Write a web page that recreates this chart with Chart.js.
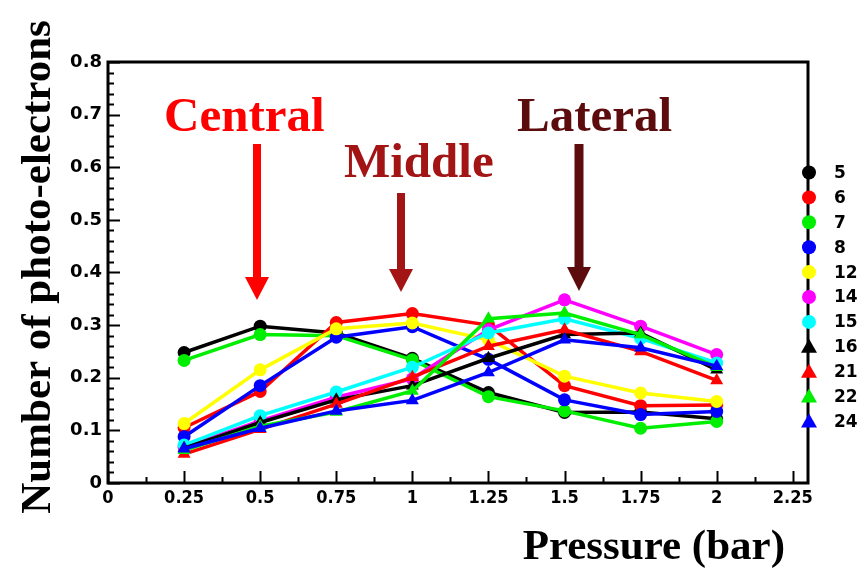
<!DOCTYPE html>
<html>
<head>
<meta charset="utf-8">
<script src="https://cdn.jsdelivr.net/npm/chart.js@4"></script>
<style>
  body { margin: 0; background: #fff; }
  #wrap { width: 861px; height: 570px; }
</style>
</head>
<body>
<div id="wrap"><canvas id="pe" width="861" height="570"></canvas></div>
<script>
// pressure points (bar)
const pressure = [0.25, 0.5, 0.75, 1, 1.25, 1.5, 1.75, 2];

// channel labels + style
const channels = ['5', '6', '7', '8', '12', '14', '15', '16', '21', '22', '24'];
const colours = ['#000000', '#ff0000', '#00ee00', '#0000ff', '#ffff00', '#ff00ff', '#00ffff',
                 '#000000', '#ff0000', '#00ee00', '#0000ff'];
const markers = ['circle', 'circle', 'circle', 'circle', 'circle', 'circle', 'circle',
                 'triangle', 'triangle', 'triangle', 'triangle'];

// photo-electrons per channel
const ch5  = [0.248, 0.298, 0.285, 0.237, 0.172, 0.134, 0.135, 0.122];
const ch6  = [0.105, 0.174, 0.305, 0.322, 0.300, 0.185, 0.147, 0.148];
const ch7  = [0.233, 0.282, 0.280, 0.234, 0.164, 0.137, 0.104, 0.117];
const ch8  = [0.088, 0.185, 0.277, 0.297, 0.235, 0.158, 0.130, 0.136];
const ch12 = [0.113, 0.215, 0.293, 0.304, 0.272, 0.203, 0.171, 0.155];
const ch14 = [0.068, 0.118, 0.163, 0.198, 0.291, 0.348, 0.298, 0.244];
const ch15 = [0.072, 0.128, 0.173, 0.220, 0.285, 0.312, 0.275, 0.228];
const ch16 = [0.066, 0.115, 0.158, 0.185, 0.237, 0.282, 0.285, 0.215];
const ch21 = [0.055, 0.102, 0.150, 0.201, 0.260, 0.291, 0.250, 0.195];
const ch22 = [0.062, 0.108, 0.135, 0.175, 0.312, 0.323, 0.282, 0.220];
const ch24 = [0.065, 0.104, 0.137, 0.157, 0.210, 0.272, 0.257, 0.222];
const allSeries = [ch5, ch6, ch7, ch8, ch12, ch14, ch15, ch16, ch21, ch22, ch24];

// x / y ticks
const xTicks = [0, 0.25, 0.5, 0.75, 1, 1.25, 1.5, 1.75, 2, 2.25];
const yTicks = [0, 0.1, 0.2, 0.3, 0.4, 0.5, 0.6, 0.7, 0.8];

const datasets = allSeries.map((vals, i) => ({
  label: channels[i],
  data: vals.map((v, k) => ({ x: pressure[k], y: v })),
  borderColor: colours[i],
  backgroundColor: colours[i],
  borderWidth: 3.5,
  pointStyle: markers[i],
  pointRadius: markers[i] === 'circle' ? 6.5 : 7.5,
  pointBorderWidth: 0,
  tension: 0,
  order: allSeries.length - i
}));

// frame + inside ticks like the ROOT plot
const frame = {
  id: 'frame',
  afterDatasetsDraw(chart) {
    const { ctx, chartArea: a, scales: { x, y } } = chart;
    ctx.save();
    ctx.strokeStyle = '#000';
    ctx.lineWidth = 2;
    ctx.beginPath();
    // y ticks, minors every 0.02
    for (let v = 0; v <= 0.8001; v += 0.02) {
      const py = Math.round(y.getPixelForValue(v)) + 0.5;
      const major = Math.abs(v * 10 - Math.round(v * 10)) < 1e-6;
      ctx.moveTo(a.left, py);
      ctx.lineTo(a.left + (major ? 12 : 6), py);
    }
    // x ticks, minors every 0.125
    for (let v = 0; v <= 2.3; v += 0.125) {
      const px = Math.round(x.getPixelForValue(v)) + 0.5;
      const major = Math.abs(v * 4 - Math.round(v * 4)) < 1e-6;
      ctx.moveTo(px, a.bottom);
      ctx.lineTo(px, a.bottom - (major ? 12 : 6));
    }
    ctx.stroke();
    ctx.lineWidth = 3;
    ctx.strokeRect(a.left, a.top, a.right - a.left, a.bottom - a.top);
    ctx.restore();
  }
};

function arrow(ctx, x, top, baseY, tipY, shaftW, halfHead, col) {
  ctx.fillStyle = col;
  ctx.fillRect(x - shaftW / 2, top, shaftW, baseY - top + 1);
  ctx.beginPath();
  ctx.moveTo(x - halfHead, baseY);
  ctx.lineTo(x + halfHead, baseY);
  ctx.lineTo(x, tipY);
  ctx.closePath();
  ctx.fill();
}

function drawMarker(ctx, style, cx, cy, col) {
  ctx.fillStyle = col;
  ctx.beginPath();
  if (style === 'circle') {
    ctx.arc(cx, cy, 7, 0, Math.PI * 2);
  } else {
    ctx.moveTo(cx, cy - 8);
    ctx.lineTo(cx + 8, cy + 6);
    ctx.lineTo(cx - 8, cy + 6);
    ctx.closePath();
  }
  ctx.fill();
}

const extras = {
  id: 'extras',
  afterDraw(chart) {
    const ctx = chart.ctx;
    ctx.save();

    // axis titles
    ctx.fillStyle = '#000';
    ctx.font = 'bold 43px "Liberation Serif", "Times New Roman", serif';
    ctx.textAlign = 'right';
    ctx.textBaseline = 'alphabetic';
    ctx.fillText('Pressure (bar)', 785, 559);
    ctx.save();
    ctx.translate(50, 267);
    ctx.rotate(-Math.PI / 2);
    ctx.textAlign = 'center';
    ctx.fillText('Number of photo-electrons', 0, 0);
    ctx.restore();

    // region labels
    ctx.textAlign = 'left';
    ctx.font = 'bold 49px "Liberation Serif", "Times New Roman", serif';
    ctx.fillStyle = '#ff0000';
    ctx.fillText('Central', 164, 131);
    ctx.fillStyle = '#a31414';
    ctx.fillText('Middle', 344, 177);
    ctx.fillStyle = '#5c0c0c';
    ctx.fillText('Lateral', 517, 131);

    arrow(ctx, 257, 144, 277, 300, 8, 12, '#ff0000');
    arrow(ctx, 401, 193, 269, 292, 8, 12, '#a31414');
    arrow(ctx, 579, 144, 267, 291, 9, 12, '#5c0c0c');

    // legend on the right frame edge
    ctx.font = 'bold 17px "DejaVu Sans", sans-serif';
    ctx.textBaseline = 'middle';
    channels.forEach((lab, i) => {
      const cy = 172.5 + i * 24.9;
      drawMarker(ctx, markers[i], 809, cy, colours[i]);
      ctx.fillStyle = '#000';
      ctx.fillText(lab, 834, cy + 1);
    });

    ctx.restore();
  }
};

new Chart(document.getElementById('pe'), {
  type: 'line',
  data: { datasets },
  options: {
    responsive: false,
    animation: false,
    layout: { padding: { left: 0, top: 62, right: 53, bottom: 0 } },
    plugins: { legend: { display: false }, tooltip: { enabled: false } },
    scales: {
      x: {
        type: 'linear',
        min: 0,
        max: 2.3,
        afterFit(s) { s.height = 87; },
        afterBuildTicks(s) { s.ticks = xTicks.map(v => ({ value: v })); },
        grid: { display: false, drawTicks: false },
        border: { display: false },
        ticks: {
          padding: 5,
          maxRotation: 0,
          autoSkip: false,
          color: '#000',
          font: { family: '"DejaVu Sans Condensed", "DejaVu Sans", sans-serif', weight: 'bold', size: 18 },
          callback: v => String(+(+v).toFixed(2))
        }
      },
      y: {
        min: 0,
        max: 0.8,
        afterFit(s) { s.width = 108; },
        afterBuildTicks(s) { s.ticks = yTicks.map(v => ({ value: v })); },
        grid: { display: false, drawTicks: false },
        border: { display: false },
        ticks: {
          padding: 6,
          autoSkip: false,
          color: '#000',
          font: { family: '"DejaVu Sans", sans-serif', weight: 'bold', size: 18 },
          callback: v => v === 0 ? '0' : (+v).toFixed(1)
        }
      }
    }
  },
  plugins: [frame, extras]
});
</script>
</body>
</html>
